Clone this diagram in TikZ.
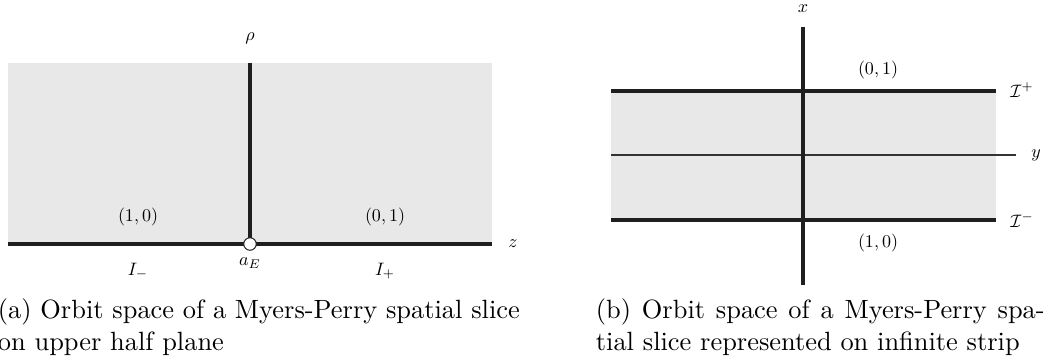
\documentclass[tikz,border=0pt]{standalone}
\usepackage{amsmath}
\begin{document}
\begin{tikzpicture}[x=1pt,y=-1pt,
  axis/.style={line width=3.2pt,draw=black!88},
  midline/.style={line width=2.2pt,draw=black!80},
  region/.style={fill=black!9,draw=none},
  lab/.style={font=\normalsize,inner sep=0pt,scale=1.8},
  captext/.style={font=\normalsize,inner sep=0pt,anchor=base west,scale=2.64}]
\useasboundingbox (0,0) rectangle (1049,360);
\clip (0,0) rectangle (1049,360);
% ---- panel (a)
\fill[region] (8,63) rectangle (492,244);
\coordinate (aL) at (8,244);
\coordinate (aR) at (492,244);
\coordinate (aT) at (250,63);
\coordinate (aE) at (250,244);
\draw[axis] (aL) -- (aR);
\draw[axis] (aT) -- (aE);
\node[circle,draw=black!88,line width=1pt,fill=white,minimum size=12.5pt,inner sep=0pt] (pt) at (aE) {};
\node[lab] (rho) at (250,38) {$\rho$};
\node[lab] (z) at (513,244) {$z$};
\node[lab] (l10) at (138,217) {$(1,0)$};
\node[lab] (l01) at (385,217) {$(0,1)$};
\node[lab] (Im) at (138,271) {$I_-$};
\node[lab] (aEl) at (250,263) {$a_E$};
\node[lab] (Ip) at (385,271) {$I_+$};
\node[captext] (capa1) at (-2.6,318) {(a) Orbit space of a Myers-Perry spatial slice};
\node[captext] (capa2) at (-2.6,350) {on upper half plane};
% ---- panel (b)
\fill[region] (611,91) rectangle (996,220);
\coordinate (bT) at (803,27);
\coordinate (bB) at (803,285);
\coordinate (tL) at (611,91);
\coordinate (tR) at (996,91);
\coordinate (mL) at (611,155);
\coordinate (mR) at (1016,155);
\coordinate (uL) at (611,220);
\coordinate (uR) at (996,220);
\draw[midline] (mL) -- (mR);
\draw[axis] (bT) -- (bB);
\draw[axis] (tL) -- (tR);
\draw[axis] (uL) -- (uR);
\node[lab] (x) at (803,9) {$x$};
\node[lab] (y) at (1036,155) {$y$};
\node[lab] (Ipl) at (1022,90) {$\mathcal{I}^+$};
\node[lab] (Imi) at (1022,220) {$\mathcal{I}^-$};
\node[lab] (b01) at (878,70) {$(0,1)$};
\node[lab] (b10) at (878,243) {$(1,0)$};
\node[captext] (capb1) at (595.4,318) {\hbox to 170pt{(b) Orbit space of a Myers-Perry spa-}};
\node[captext] (capb2) at (595.4,350) {tial slice represented on infinite strip};
\end{tikzpicture}
\end{document}
